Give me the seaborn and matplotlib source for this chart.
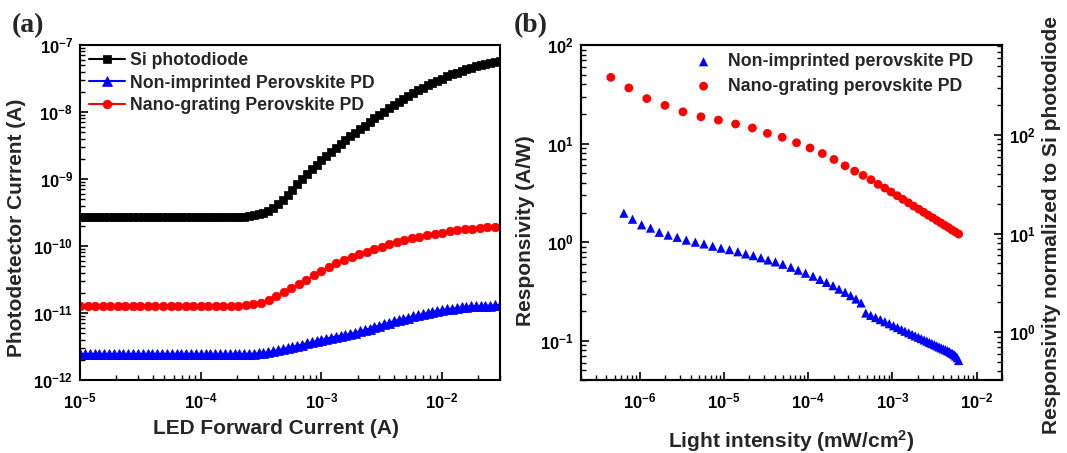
import matplotlib
matplotlib.use("Agg")
import matplotlib.pyplot as plt
import numpy as np
import pandas as pd
import seaborn as sns
from matplotlib.ticker import LogLocator, NullFormatter, FuncFormatter

# ---------------- Panel (a) data ----------------
led_current = [
    1.00e-5, 1.10e-5, 1.20e-5, 1.32e-5, 1.45e-5, 1.58e-5, 1.74e-5, 1.91e-5, 2.09e-5, 2.29e-5,
    2.51e-5, 2.75e-5, 3.02e-5, 3.31e-5, 3.63e-5, 3.98e-5, 4.37e-5, 4.79e-5, 5.25e-5, 5.75e-5,
    6.31e-5, 6.92e-5, 7.59e-5, 8.32e-5, 9.12e-5,
    1.00e-4, 1.10e-4, 1.20e-4, 1.32e-4, 1.45e-4, 1.58e-4, 1.74e-4, 1.91e-4, 2.09e-4, 2.29e-4,
    2.51e-4, 2.75e-4, 3.02e-4, 3.31e-4, 3.63e-4, 3.98e-4, 4.37e-4, 4.79e-4, 5.25e-4, 5.75e-4,
    6.31e-4, 6.92e-4, 7.59e-4, 8.32e-4, 9.12e-4,
    1.00e-3, 1.10e-3, 1.20e-3, 1.32e-3, 1.45e-3, 1.58e-3, 1.74e-3, 1.91e-3, 2.09e-3, 2.29e-3,
    2.51e-3, 2.75e-3, 3.02e-3, 3.31e-3, 3.63e-3, 3.98e-3, 4.37e-3, 4.79e-3, 5.25e-3, 5.75e-3,
    6.31e-3, 6.92e-3, 7.59e-3, 8.32e-3, 9.12e-3,
    1.00e-2, 1.10e-2, 1.20e-2, 1.32e-2, 1.45e-2, 1.58e-2, 1.74e-2, 1.91e-2, 2.09e-2, 2.29e-2,
    2.51e-2, 2.75e-2, 3.02e-2,
]

si_current = [
    2.69e-10, 2.69e-10, 2.69e-10, 2.69e-10, 2.69e-10, 2.69e-10, 2.69e-10, 2.69e-10, 2.69e-10, 2.69e-10,
    2.69e-10, 2.69e-10, 2.69e-10, 2.69e-10, 2.69e-10, 2.69e-10, 2.69e-10, 2.69e-10, 2.69e-10, 2.69e-10,
    2.69e-10, 2.69e-10, 2.69e-10, 2.69e-10, 2.69e-10, 2.69e-10, 2.69e-10, 2.69e-10, 2.69e-10, 2.69e-10,
    2.69e-10, 2.69e-10,
    2.70e-10, 2.72e-10, 2.75e-10, 2.82e-10, 2.88e-10, 2.99e-10, 3.13e-10, 3.35e-10, 3.67e-10, 4.17e-10,
    4.79e-10, 5.69e-10, 6.84e-10, 8.32e-10, 1.00e-9, 1.19e-9, 1.40e-9, 1.64e-9, 1.91e-9, 2.21e-9,
    2.54e-9, 2.92e-9, 3.35e-9, 3.80e-9, 4.32e-9, 4.90e-9, 5.50e-9, 6.24e-9, 7.08e-9, 8.04e-9,
    9.02e-9, 1.01e-8, 1.14e-8, 1.27e-8, 1.41e-8, 1.57e-8, 1.74e-8, 1.93e-8, 2.11e-8, 2.32e-8,
    2.51e-8, 2.72e-8, 2.95e-8, 3.16e-8, 3.39e-8, 3.63e-8, 3.85e-8, 4.07e-8, 4.32e-8, 4.57e-8,
    4.79e-8, 5.01e-8, 5.25e-8, 5.43e-8, 5.62e-8, 5.82e-8,
]

nonimprinted_current = [
    2.45e-12, 2.45e-12, 2.45e-12, 2.45e-12, 2.45e-12, 2.45e-12, 2.45e-12, 2.45e-12, 2.45e-12, 2.45e-12,
    2.45e-12, 2.45e-12, 2.45e-12, 2.45e-12, 2.45e-12, 2.45e-12, 2.45e-12, 2.45e-12, 2.45e-12, 2.45e-12,
    2.45e-12, 2.45e-12, 2.45e-12, 2.45e-12, 2.45e-12, 2.45e-12, 2.45e-12, 2.45e-12, 2.45e-12, 2.45e-12,
    2.45e-12, 2.45e-12, 2.45e-12, 2.45e-12, 2.45e-12,
    2.46e-12, 2.47e-12, 2.50e-12, 2.53e-12, 2.59e-12, 2.68e-12, 2.78e-12, 2.88e-12, 3.01e-12, 3.13e-12,
    3.25e-12, 3.37e-12, 3.51e-12, 3.66e-12, 3.80e-12, 3.96e-12, 4.12e-12, 4.30e-12, 4.45e-12, 4.57e-12,
    4.68e-12, 4.86e-12, 5.11e-12, 5.35e-12, 5.59e-12, 5.85e-12, 6.17e-12, 6.46e-12, 6.84e-12, 7.16e-12,
    7.53e-12, 7.94e-12, 8.22e-12, 8.55e-12, 8.87e-12, 9.23e-12, 9.64e-12, 1.005e-11, 1.047e-11, 1.077e-11,
    1.104e-11, 1.132e-11, 1.159e-11, 1.186e-11, 1.216e-11, 1.245e-11, 1.259e-11, 1.268e-11, 1.276e-11, 1.285e-11,
    1.294e-11, 1.303e-11, 1.312e-11,
]

led_current_grating = [
    1.000e-5, 1.155e-5, 1.334e-5, 1.540e-5, 1.778e-5, 2.054e-5, 2.371e-5, 2.738e-5,
    3.162e-5, 3.652e-5, 4.217e-5, 4.870e-5, 5.623e-5, 6.494e-5, 7.499e-5, 8.660e-5,
    1.000e-4, 1.155e-4, 1.334e-4, 1.540e-4, 1.778e-4, 2.054e-4, 2.371e-4, 2.738e-4,
    3.162e-4, 3.652e-4, 4.217e-4, 4.870e-4, 5.623e-4, 6.494e-4, 7.499e-4, 8.660e-4,
    1.000e-3, 1.155e-3, 1.334e-3, 1.540e-3, 1.778e-3, 2.054e-3, 2.371e-3, 2.738e-3,
    3.162e-3, 3.652e-3, 4.217e-3, 4.870e-3, 5.623e-3, 6.494e-3, 7.499e-3, 8.660e-3,
    1.000e-2, 1.155e-2, 1.334e-2, 1.540e-2, 1.778e-2, 2.054e-2, 2.371e-2, 2.738e-2,
]

grating_current = [
    1.29e-11, 1.29e-11, 1.29e-11, 1.29e-11, 1.29e-11, 1.29e-11, 1.29e-11, 1.29e-11, 1.29e-11, 1.29e-11,
    1.29e-11, 1.29e-11, 1.29e-11, 1.29e-11, 1.29e-11, 1.29e-11, 1.29e-11, 1.29e-11, 1.29e-11, 1.29e-11,
    1.29e-11,
    1.29e-11, 1.32e-11, 1.36e-11, 1.43e-11, 1.58e-11, 1.78e-11, 2.04e-11, 2.34e-11, 2.72e-11, 3.13e-11,
    3.63e-11, 4.17e-11, 4.90e-11, 5.56e-11, 6.17e-11, 6.84e-11, 7.50e-11, 8.18e-11, 8.91e-11, 9.77e-11,
    1.06e-10, 1.15e-10, 1.23e-10, 1.30e-10, 1.38e-10, 1.45e-10, 1.52e-10, 1.58e-10, 1.65e-10, 1.71e-10,
    1.77e-10, 1.82e-10, 1.87e-10, 1.91e-10, 1.94e-10,
]

# ---------------- Panel (b) data ----------------
intensity_nonimprinted = [
    6.46e-7, 8.18e-7, 1.05e-6, 1.34e-6, 1.70e-6, 2.17e-6, 2.78e-6, 3.56e-6, 4.56e-6, 5.78e-6,
    7.33e-6, 9.20e-6, 1.16e-5, 1.46e-5, 1.81e-5, 2.23e-5, 2.74e-5, 3.34e-5, 4.08e-5, 4.99e-5,
    6.22e-5, 7.60e-5, 9.29e-5, 1.14e-4, 1.38e-4, 1.65e-4, 1.97e-4, 2.32e-4, 2.74e-4, 3.19e-4,
    3.69e-4, 4.24e-4,
    4.82e-4, 5.52e-4, 6.31e-4, 7.18e-4, 8.13e-4, 9.16e-4, 1.03e-3, 1.15e-3, 1.28e-3, 1.41e-3,
    1.56e-3, 1.71e-3, 1.86e-3, 2.03e-3, 2.20e-3, 2.38e-3, 2.56e-3, 2.75e-3, 2.94e-3, 3.15e-3,
    3.36e-3, 3.57e-3, 3.79e-3, 4.02e-3, 4.25e-3, 4.48e-3, 4.71e-3, 4.94e-3, 5.18e-3, 5.41e-3,
    5.64e-3, 5.88e-3, 6.11e-3,
]
resp_nonimprinted = [
    1.97, 1.71, 1.50, 1.39, 1.26, 1.18, 1.12, 1.05, 1.00, 0.96,
    0.91, 0.87, 0.84, 0.80, 0.76, 0.73, 0.695, 0.66, 0.631, 0.597,
    0.557, 0.520, 0.485, 0.452, 0.419, 0.391, 0.362, 0.334, 0.310, 0.287,
    0.265, 0.242,
    0.191, 0.181, 0.172, 0.164, 0.156, 0.149, 0.142, 0.136, 0.130, 0.125,
    0.1205, 0.116, 0.112, 0.1086, 0.1052, 0.1019, 0.0991, 0.0962, 0.0937, 0.0912,
    0.0889, 0.0867, 0.0847, 0.0828, 0.0811, 0.0794, 0.0778, 0.0755, 0.0741, 0.0721,
    0.0700, 0.0673, 0.0631,
]

intensity_grating = [
    4.52e-7, 7.40e-7, 1.21e-6, 1.99e-6, 3.25e-6, 5.32e-6, 8.57e-6, 1.37e-5, 2.17e-5, 3.27e-5,
    4.90e-5, 7.26e-5, 1.05e-4, 1.47e-4, 2.02e-4, 2.74e-4, 3.56e-4, 4.48e-4, 5.57e-4, 6.75e-4,
    8.11e-4, 9.64e-4, 1.14e-3, 1.33e-3, 1.55e-3, 1.79e-3, 2.06e-3, 2.35e-3, 2.66e-3, 3.00e-3,
    3.37e-3, 3.76e-3, 4.18e-3, 4.62e-3, 5.09e-3, 5.58e-3, 6.11e-3,
]
resp_grating = [
    47.0, 36.7, 28.6, 24.4, 21.0, 18.7, 17.3, 15.8, 14.4, 12.7,
    11.6, 10.2, 9.03, 7.93, 6.90, 5.95, 5.26, 4.76, 4.30, 3.86,
    3.54, 3.23, 2.96, 2.72, 2.51, 2.32, 2.16, 2.01, 1.88, 1.77,
    1.66, 1.57, 1.48, 1.41, 1.33, 1.27, 1.21,
]

si_responsivity = 0.1224  # A/W, used for the right-hand normalised axis

labels_a = ["Si photodiode", "Non-imprinted Perovskite PD", "Nano-grating Perovskite PD"]
labels_b = ["Non-imprinted perovskite PD", "Nano-grating perovskite PD"]

# ---------------- Style ----------------
sns.set_style("ticks")
plt.rcParams["font.family"] = ["Liberation Sans", "DejaVu Sans"]
plt.rcParams["font.weight"] = "bold"
plt.rcParams["axes.labelweight"] = "bold"
plt.rcParams["mathtext.fontset"] = "custom"
plt.rcParams["mathtext.rm"] = "Liberation Sans:bold"
plt.rcParams["mathtext.bf"] = "Liberation Sans:bold"
plt.rcParams["mathtext.it"] = "Liberation Sans:bold:italic"
plt.rcParams["mathtext.default"] = "bf"

W, H = 1067, 453
fig = plt.figure(figsize=(W / 100, H / 100), dpi=100)
ax_a = fig.add_axes([80 / W, (H - 380) / H, 420 / W, 335 / H])
ax_b = fig.add_axes([581 / W, (H - 380) / H, 421 / W, 335 / H])

def sci(v, pos):
    if v <= 0:
        return ""
    e = int(round(np.log10(v)))
    return r"$\mathbf{10^{%d}}$" % e

def style_log_axis(ax, axis):
    a = ax.xaxis if axis == "x" else ax.yaxis
    a.set_major_locator(LogLocator(base=10, numticks=20))
    a.set_minor_locator(LogLocator(base=10, subs=np.arange(2, 10), numticks=200))
    a.set_major_formatter(FuncFormatter(sci))
    a.set_minor_formatter(NullFormatter())

# ---------------- Panel (a) ----------------
df_si = pd.DataFrame({"I": led_current, "J": si_current})
df_non = pd.DataFrame({"I": led_current, "J": nonimprinted_current})
df_gr = pd.DataFrame({"I": led_current_grating, "J": grating_current})

sns.lineplot(data=df_si, x="I", y="J", ax=ax_a, color="black", marker="s", markersize=6.4,
             markeredgecolor="black", markeredgewidth=0.5, linewidth=1.5, label=labels_a[0],
             estimator=None, sort=False)
sns.lineplot(data=df_non, x="I", y="J", ax=ax_a, color="#0000FF", marker="^", markersize=7.0,
             markeredgecolor="#0000FF", markeredgewidth=0.5, linewidth=1.5, label=labels_a[1],
             estimator=None, sort=False)
sns.lineplot(data=df_gr, x="I", y="J", ax=ax_a, color="#FF0000", marker="o", markersize=6.2,
             markeredgecolor="#FF0000", markeredgewidth=0.5, linewidth=1.5, label=labels_a[2],
             estimator=None, sort=False)

ax_a.set_xscale("log")
ax_a.set_yscale("log")
ax_a.set_xlim(1e-5, 3.02e-2)
ax_a.set_ylim(1e-12, 1e-7)
style_log_axis(ax_a, "x")
style_log_axis(ax_a, "y")
ax_a.set_xlabel("LED Forward Current (A)", fontsize=15, fontweight="bold")
ax_a.set_ylabel("Photodetector Current (A)", fontsize=15, fontweight="bold")
ax_a.xaxis.set_label_coords(0.467, -0.115)
ax_a.yaxis.set_label_coords(-0.128, 0.454)

leg_a = ax_a.legend(loc="upper left", bbox_to_anchor=(0.022, 0.978), frameon=False,
                    prop={"size": 12.7, "weight": "bold"}, handlelength=2.0,
                    handletextpad=0.3, labelspacing=0.3, borderpad=0, borderaxespad=0)

# ---------------- Panel (b) ----------------
df_bn = pd.DataFrame({"P": intensity_nonimprinted, "R": resp_nonimprinted})
df_bg = pd.DataFrame({"P": intensity_grating, "R": resp_grating})

sns.scatterplot(data=df_bn, x="P", y="R", ax=ax_b, color="#0000FF", marker="^", s=44,
                edgecolor="none", linewidth=0, label=labels_b[0])
sns.scatterplot(data=df_bg, x="P", y="R", ax=ax_b, color="#FF0000", marker="o", s=40,
                edgecolor="none", linewidth=0, label=labels_b[1])

ax_b.set_xscale("log")
ax_b.set_yscale("log")
ax_b.set_xlim(2.0e-7, 2.0e-2)
ax_b.set_ylim(0.04, 100)
style_log_axis(ax_b, "x")
style_log_axis(ax_b, "y")
ax_b.set_xlabel(r"Light intensity (mW/cm$^{\mathbf{2}}$)", fontsize=15, fontweight="bold")
ax_b.set_ylabel("Responsivity (A/W)", fontsize=15, fontweight="bold")
ax_b.xaxis.set_label_coords(0.5, -0.145)
ax_b.yaxis.set_label_coords(-0.109, 0.445)

ax_r = ax_b.twinx()
ax_r.set_yscale("log")
ax_r.set_ylim(0.04 / si_responsivity, 100 / si_responsivity)
style_log_axis(ax_r, "y")
ax_r.set_ylabel("Responsivity normalized to Si photodiode", fontsize=15, fontweight="bold")
ax_r.yaxis.set_label_coords(1.096, 0.463)

leg_b = ax_b.legend(loc="upper left", bbox_to_anchor=(0.27, 0.975), frameon=False,
                    prop={"size": 12.8, "weight": "bold"}, handlelength=1.0,
                    handletextpad=0.9, labelspacing=0.42, borderpad=0, borderaxespad=0,
                    scatterpoints=1)

# ---------------- Common axis styling ----------------
for ax in (ax_a, ax_b, ax_r):
    for sp in ax.spines.values():
        sp.set_linewidth(1.5)
        sp.set_color("black")
    ax.tick_params(which="major", direction="in", length=6, width=1.2, labelsize=12,
                   color="black", labelcolor="black")
    ax.tick_params(which="minor", direction="in", length=3.5, width=1.0, color="black")

ax_a.tick_params(which="both", top=False, right=False)
ax_a.tick_params(axis="x", which="major", pad=8)
ax_a.tick_params(axis="y", which="major", pad=5)
ax_b.tick_params(which="both", top=False, right=False)
ax_b.tick_params(axis="x", which="major", pad=8)
ax_b.tick_params(axis="y", which="major", pad=5)
ax_r.tick_params(which="both", left=False, right=True, top=False)
ax_r.tick_params(axis="y", which="major", pad=5)

fig.text(12 / W, 1 - 26 / H, "(a)", fontfamily="Liberation Serif", fontweight="bold",
         fontsize=20, va="center", ha="left")
fig.text(514 / W, 1 - 26 / H, "(b)", fontfamily="Liberation Serif", fontweight="bold",
         fontsize=20, va="center", ha="left")

fig.savefig("out.png", dpi=100)
